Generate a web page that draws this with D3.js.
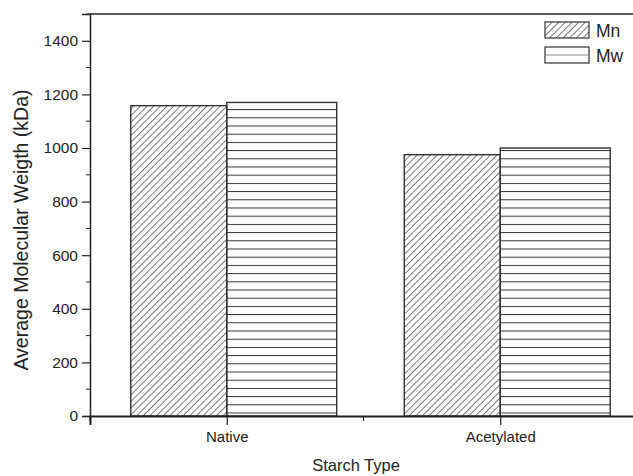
<!DOCTYPE html>
<html>
<head>
<meta charset="utf-8">
<script src="https://cdn.jsdelivr.net/npm/d3@7"></script>
<style>
  body { margin: 0; background: #fff; }
  text { font-family: "Liberation Sans", Arial, sans-serif; fill: #222; }
</style>
</head>
<body>
<div id="chart"></div>
<script>
// data
var categories = ["Native", "Acetylated"];
var mnValues = [1158, 975];
var mwValues = [1170, 1000];
var seriesNames = ["Mn", "Mw"];
var yTicks = [0, 200, 400, 600, 800, 1000, 1200, 1400];
var yMinorTicks = [100, 300, 500, 700, 900, 1100, 1300, 1500];

var width = 633, height = 476;
var svg = d3.select("#chart").append("svg").attr("width", width).attr("height", height);

var defs = svg.append("defs");
// diagonal hatch for Mn
var diag = defs.append("pattern")
    .attr("id", "diag")
    .attr("patternUnits", "userSpaceOnUse")
    .attr("width", 4.7).attr("height", 4.7)
    .attr("patternTransform", "rotate(45)");
diag.append("line")
    .attr("x1", 0).attr("y1", 0).attr("x2", 0).attr("y2", 4.7)
    .attr("stroke", "#222").attr("stroke-width", 1.2);
// horizontal hatch for Mw
var horiz = defs.append("pattern")
    .attr("id", "horiz")
    .attr("patternUnits", "userSpaceOnUse")
    .attr("width", 10).attr("height", 8.2)
    .attr("y", 2.5);
horiz.append("line")
    .attr("x1", 0).attr("y1", 0.5).attr("x2", 10).attr("y2", 0.5)
    .attr("stroke", "#333").attr("stroke-width", 1);

var x = d3.scaleLinear().domain([0.5, 2.5]).range([90, 637]);
var y = d3.scaleLinear().domain([0, 1500]).range([416, 14]);

var mnWidth = 0.351, mwWidth = 0.402;

var g = svg.append("g");

// bars
g.selectAll(".mn").data(mnValues).enter().append("rect")
    .attr("class", "mn")
    .attr("x", function(d, i) { return x(i + 1 - mnWidth); })
    .attr("y", function(d) { return y(d); })
    .attr("width", function(d, i) { return x(i + 1) - x(i + 1 - mnWidth); })
    .attr("height", function(d) { return y(0) - y(d); })
    .attr("fill", "url(#diag)")
    .attr("stroke", "#333").attr("stroke-width", 1.4);

g.selectAll(".mw").data(mwValues).enter().append("rect")
    .attr("class", "mw")
    .attr("x", function(d, i) { return x(i + 1); })
    .attr("y", function(d) { return y(d); })
    .attr("width", function(d, i) { return x(i + 1 + mwWidth) - x(i + 1); })
    .attr("height", function(d) { return y(0) - y(d); })
    .attr("fill", "url(#horiz)")
    .attr("stroke", "#333").attr("stroke-width", 1.4);

// frame top line
svg.append("line")
    .attr("x1", 90).attr("x2", 640).attr("y1", 14).attr("y2", 14)
    .attr("stroke", "#222").attr("stroke-width", 1.5);

// y axis
var yAxis = svg.append("g")
    .attr("transform", "translate(90,0)")
    .call(d3.axisLeft(y).tickValues(yTicks).tickSize(8).tickPadding(4).tickFormat(d3.format("d")));
yAxis.append("g").selectAll("line").data(yMinorTicks).enter().append("line")
    .attr("x1", 0).attr("x2", -4)
    .attr("y1", function(d) { return y(d); }).attr("y2", function(d) { return y(d); })
    .attr("stroke", "#222");
yAxis.select(".domain").attr("stroke", "#222").attr("stroke-width", 1.5);
yAxis.selectAll(".tick line").attr("stroke", "#222").attr("stroke-width", 1.2);
yAxis.selectAll("text").style("font-size", "15.5px").attr("fill", "#222");

// x axis
var xAxis = svg.append("g")
    .attr("transform", "translate(0,416)")
    .call(d3.axisBottom(x).tickValues([1, 2]).tickSize(9).tickPadding(6)
        .tickFormat(function(d) { return categories[d - 1]; }));
xAxis.append("g").selectAll("line").data([0.5, 1.5]).enter().append("line")
    .attr("x1", function(d) { return x(d); }).attr("x2", function(d) { return x(d); })
    .attr("y1", 0).attr("y2", 5)
    .attr("stroke", "#222").attr("stroke-width", 1.2);
xAxis.select(".domain").attr("stroke", "#222").attr("stroke-width", 2);
xAxis.selectAll(".tick line").attr("stroke", "#222").attr("stroke-width", 1.2);
xAxis.selectAll("text").style("font-size", "15px").attr("fill", "#222");

// axis titles
svg.append("text")
    .attr("transform", "translate(28,230) rotate(-90)")
    .attr("text-anchor", "middle")
    .style("font-size", "19.5px")
    .text("Average Molecular Weigth (kDa)");
svg.append("text")
    .attr("x", 356).attr("y", 471)
    .attr("text-anchor", "middle")
    .style("font-size", "16.5px")
    .text("Starch Type");

// legend
var legend = svg.append("g").attr("transform", "translate(545,22)");
legend.append("rect")
    .attr("x", 0).attr("y", 0).attr("width", 44).attr("height", 16)
    .attr("fill", "url(#diag)").attr("stroke", "#333").attr("stroke-width", 1.2);
legend.append("rect")
    .attr("x", 0).attr("y", 25).attr("width", 44).attr("height", 16)
    .attr("fill", "#fff").attr("stroke", "#333").attr("stroke-width", 1.2);
legend.append("line")
    .attr("x1", 0).attr("x2", 44).attr("y1", 33).attr("y2", 33)
    .attr("stroke", "#888").attr("stroke-width", 1);
legend.selectAll(".lab").data(seriesNames).enter().append("text")
    .attr("class", "lab")
    .attr("x", 51)
    .attr("y", function(d, i) { return 15 + i * 25; })
    .style("font-size", "17.5px")
    .text(function(d) { return d; });
</script>
</body>
</html>
